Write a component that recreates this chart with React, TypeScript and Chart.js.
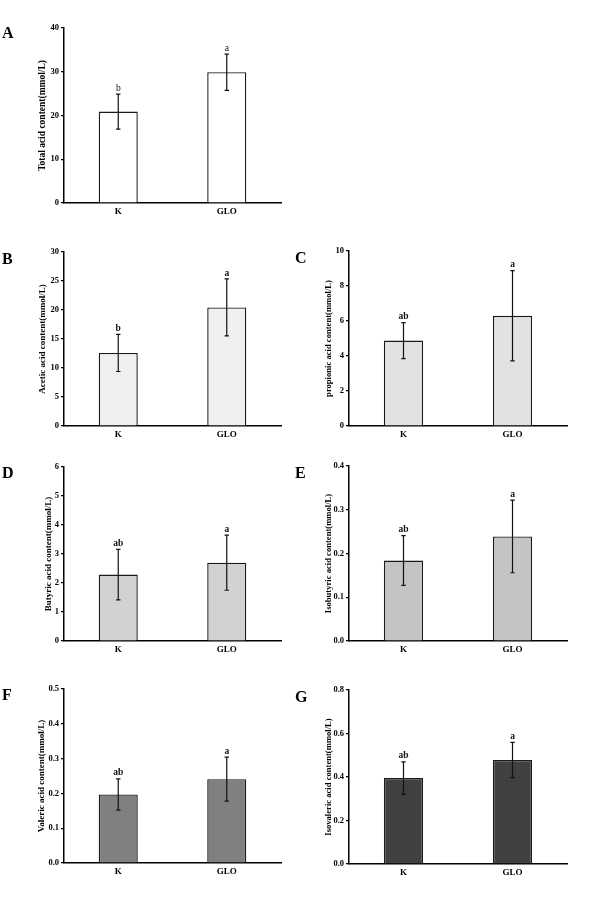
import React, { useEffect, useRef } from "react";
import { Chart, registerables } from "chart.js";

Chart.register(...registerables);

// ---- Data ----
const categories = ["K", "GLO"];

const totalAcid = [20.9, 29.9];
const totalAcidSd = [4.0, 4.15];
const totalAcidLetters = ["b", "a"];
const totalAcidTicks = [0, 10, 20, 30, 40];

const aceticAcid = [12.6, 20.45];
const aceticAcidSd = [3.2, 4.9];
const aceticAcidLetters = ["b", "a"];
const aceticAcidTicks = [0, 5, 10, 15, 20, 25, 30];

const propionicAcid = [4.88, 6.3];
const propionicAcidSd = [1.03, 2.58];
const propionicAcidLetters = ["ab", "a"];
const propionicAcidTicks = [0, 2, 4, 6, 8, 10];

const butyricAcid = [2.29, 2.7];
const butyricAcidSd = [0.87, 0.95];
const butyricAcidLetters = ["ab", "a"];
const butyricAcidTicks = [0, 1, 2, 3, 4, 5, 6];

const isobutyricAcid = [0.184, 0.239];
const isobutyricAcidSd = [0.057, 0.083];
const isobutyricAcidLetters = ["ab", "a"];
const isobutyricAcidTicks = [0, 0.1, 0.2, 0.3, 0.4];

const valericAcid = [0.197, 0.241];
const valericAcidSd = [0.045, 0.063];
const valericAcidLetters = ["ab", "a"];
const valericAcidTicks = [0, 0.1, 0.2, 0.3, 0.4, 0.5];

const isovalericAcid = [0.395, 0.478];
const isovalericAcidSd = [0.075, 0.081];
const isovalericAcidLetters = ["ab", "a"];
const isovalericAcidTicks = [0, 0.2, 0.4, 0.6, 0.8];

const SERIF = "'Liberation Serif', 'Times New Roman', serif";

type PanelCfg = {
  letter: string;
  title: string;
  values: number[];
  sd: number[];
  sig: string[];
  ticks: number[];
  decimals: number;
  fill: string;
  area: { l: number; t: number; r: number; b: number };
  titleOffset: number;
  titleSize: number;
  letterPos: { x: number; y: number };
  sigBold: boolean;
};

const panels: PanelCfg[] = [
  {
    letter: "A", title: "Total acid content(mmol/L)", values: totalAcid, sd: totalAcidSd,
    sig: totalAcidLetters, ticks: totalAcidTicks, decimals: 0, fill: "#ffffff",
    area: { l: 64, t: 28, r: 281, b: 203 }, titleOffset: 21, titleSize: 9.5,
    letterPos: { x: 2, y: 28 }, sigBold: false,
  },
  {
    letter: "B", title: "Acetic acid content(mmol/L)", values: aceticAcid, sd: aceticAcidSd,
    sig: aceticAcidLetters, ticks: aceticAcidTicks, decimals: 0, fill: "#efefef",
    area: { l: 64, t: 252, r: 281, b: 426 }, titleOffset: 21, titleSize: 9,
    letterPos: { x: 2, y: 254 }, sigBold: true,
  },
  {
    letter: "C", title: "propionic acid content(mmol/L)", values: propionicAcid, sd: propionicAcidSd,
    sig: propionicAcidLetters, ticks: propionicAcidTicks, decimals: 0, fill: "#e2e2e2",
    area: { l: 349, t: 251, r: 567, b: 426 }, titleOffset: 20, titleSize: 8.6,
    letterPos: { x: 295, y: 253 }, sigBold: true,
  },
  {
    letter: "D", title: "Butyric acid content(mmol/L)", values: butyricAcid, sd: butyricAcidSd,
    sig: butyricAcidLetters, ticks: butyricAcidTicks, decimals: 0, fill: "#d2d2d2",
    area: { l: 64, t: 467, r: 281, b: 641 }, titleOffset: 15, titleSize: 9,
    letterPos: { x: 2, y: 468 }, sigBold: true,
  },
  {
    letter: "E", title: "Isobutyric acid content(mmol/L)", values: isobutyricAcid, sd: isobutyricAcidSd,
    sig: isobutyricAcidLetters, ticks: isobutyricAcidTicks, decimals: 1, fill: "#c4c4c4",
    area: { l: 349, t: 466, r: 567, b: 641 }, titleOffset: 20, titleSize: 8.6,
    letterPos: { x: 295, y: 468 }, sigBold: true,
  },
  {
    letter: "F", title: "Valeric acid content(mmol/L)", values: valericAcid, sd: valericAcidSd,
    sig: valericAcidLetters, ticks: valericAcidTicks, decimals: 1, fill: "#808080",
    area: { l: 64, t: 689, r: 281, b: 863 }, titleOffset: 22, titleSize: 9,
    letterPos: { x: 2, y: 690 }, sigBold: true,
  },
  {
    letter: "G", title: "Isovaleric acid content(mmol/L)", values: isovalericAcid, sd: isovalericAcidSd,
    sig: isovalericAcidLetters, ticks: isovalericAcidTicks, decimals: 1, fill: "#404040",
    area: { l: 349, t: 690, r: 567, b: 864 }, titleOffset: 20, titleSize: 8.6,
    letterPos: { x: 295, y: 692 }, sigBold: true,
  },
];

const Y_W = 64; // y scale box width
const X_H = 24; // x scale box height
const TOP_PAD = 30;
const RIGHT_PAD = 15;

const errorBarPlugin = {
  id: "errorBars",
  afterDatasetsDraw(chart: any, _args: any, opts: any) {
    const { ctx } = chart;
    const meta = chart.getDatasetMeta(0);
    const yScale = chart.scales.y;
    const data = chart.data.datasets[0].data as number[];
    meta.data.forEach((bar: any, i: number) => {
      const v = data[i];
      const e = opts.errors[i];
      const x = bar.x;
      const yTop = yScale.getPixelForValue(v + e);
      const yBot = yScale.getPixelForValue(v - e);
      ctx.save();
      ctx.strokeStyle = "#111";
      ctx.lineWidth = 1.2;
      ctx.beginPath();
      ctx.moveTo(x, yTop);
      ctx.lineTo(x, yBot);
      ctx.moveTo(x - 2.2, yTop);
      ctx.lineTo(x + 2.2, yTop);
      ctx.moveTo(x - 2.2, yBot);
      ctx.lineTo(x + 2.2, yBot);
      ctx.stroke();
      ctx.fillStyle = "#111";
      ctx.font = `${opts.bold ? "bold " : ""}9.5px ${SERIF}`;
      ctx.textAlign = "center";
      ctx.textBaseline = "bottom";
      ctx.fillText(opts.letters[i], x, yTop - 1);
      ctx.restore();
    });
  },
};

function Panel({ cfg }: { cfg: PanelCfg }) {
  const ref = useRef<HTMLCanvasElement | null>(null);
  const aw = cfg.area.r - cfg.area.l;
  const ah = cfg.area.b - cfg.area.t;
  const cw = Y_W + aw + RIGHT_PAD;
  const ch = TOP_PAD + ah + X_H;
  const left = cfg.area.l - Y_W;
  const top = cfg.area.t - TOP_PAD;

  useEffect(() => {
    if (!ref.current) return;
    const titleLH = cfg.titleSize * 1.2;
    const titlePadTop = Y_W - cfg.titleOffset - titleLH / 2;
    const chart = new Chart(ref.current, {
      type: "bar",
      data: {
        labels: categories,
        datasets: [
          {
            data: cfg.values,
            backgroundColor: cfg.fill,
            borderColor: "#1a1a1a",
            borderWidth: 1.4,
            barPercentage: 0.36,
            categoryPercentage: 1,
          },
        ],
      },
      options: {
        responsive: false,
        animation: false,
        devicePixelRatio: 1,
        layout: { padding: { left: 0, top: TOP_PAD, right: RIGHT_PAD, bottom: 0 } },
        plugins: {
          legend: { display: false },
          tooltip: { enabled: false },
          errorBars: { errors: cfg.sd, letters: cfg.sig, bold: cfg.sigBold },
        } as any,
        scales: {
          x: {
            grid: { display: false, drawTicks: false },
            border: { display: true, color: "#000", width: 1.5 },
            ticks: {
              color: "#000",
              padding: 3,
              font: { family: SERIF, weight: "bold", size: 9 },
            },
            afterFit: (s: any) => {
              s.height = X_H;
            },
          },
          y: {
            min: cfg.ticks[0],
            max: cfg.ticks[cfg.ticks.length - 1],
            grid: {
              display: true,
              drawOnChartArea: false,
              drawTicks: true,
              tickLength: 3,
              color: "#000",
              lineWidth: 1.2,
            },
            border: { display: true, color: "#000", width: 1.5 },
            ticks: {
              color: "#000",
              padding: 2,
              font: { family: SERIF, weight: "bold", size: 8.5 },
              callback: (v: any) => Number(v).toFixed(cfg.decimals),
            },
            afterBuildTicks: (s: any) => {
              s.ticks = cfg.ticks.map((v) => ({ value: v }));
            },
            title: {
              display: true,
              text: cfg.title,
              color: "#000",
              font: { family: SERIF, weight: "bold", size: cfg.titleSize },
              padding: { top: titlePadTop, bottom: 0 },
            },
            afterFit: (s: any) => {
              s.width = Y_W;
            },
          },
        },
      },
      plugins: [errorBarPlugin as any],
    });
    return () => chart.destroy();
  }, [cfg]);

  return (
    <>
      <canvas
        ref={ref}
        width={cw}
        height={ch}
        style={{ position: "absolute", left, top, width: cw, height: ch }}
      />
      <div
        style={{
          position: "absolute",
          left: cfg.letterPos.x,
          top: cfg.letterPos.y - 3,
          fontFamily: SERIF,
          fontWeight: "bold",
          fontSize: 16,
          lineHeight: "16px",
          color: "#000",
        }}
      >
        {cfg.letter}
      </div>
    </>
  );
}

export default function App() {
  return (
    <div
      style={{
        position: "absolute",
        left: 0,
        top: 0,
        width: 610,
        height: 904,
        background: "#fff",
        overflow: "hidden",
      }}
    >
      {panels.map((p) => (
        <Panel key={p.letter} cfg={p} />
      ))}
    </div>
  );
}
